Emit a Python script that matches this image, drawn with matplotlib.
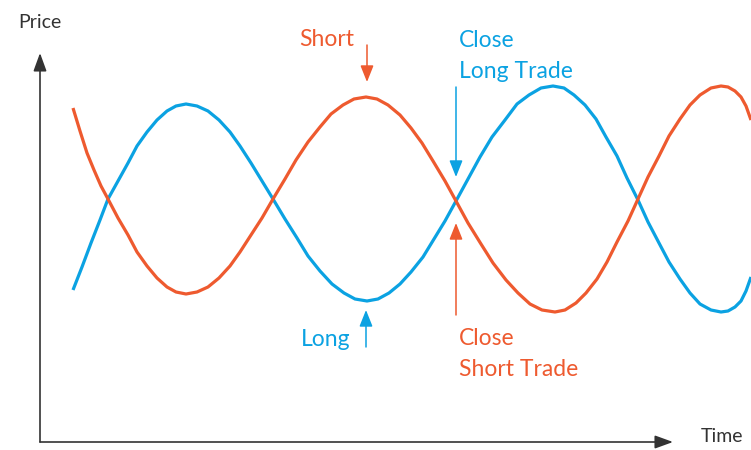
import matplotlib.pyplot as plt

# values (time, price in screen-like units, top = 0)
blue_t = [73, 82, 91, 100,
          108, 118, 128, 137, 147, 157, 167, 176,
          186, 197, 208, 219, 230, 240, 251, 262,
          273, 285, 297, 308, 320, 332, 344, 355,
          367, 378, 389, 400, 411, 423, 434, 445,
          456, 468, 480, 492, 505, 517, 529, 541,
          553, 564, 574, 585, 596, 606, 617, 627,
          638, 648, 659, 669, 680, 690, 700, 711,
          721, 728, 735, 741, 746, 751]
blue_y = [290, 267, 243, 220,
          199, 181, 163, 146, 132, 120, 111, 106,
          104, 106, 111, 120, 132, 146, 163, 181,
          199, 219, 238, 256, 271, 284, 293, 299,
          301, 299, 293, 284, 272, 257, 239, 221,
          201, 179, 157, 137, 120, 104, 95, 88,
          86, 88, 95, 105, 119, 137, 156, 178,
          200, 222, 243, 262, 279, 293, 304, 310,
          312, 311, 307, 301, 291, 277]

orange_t = [73, 80, 87, 94, 101,
            108, 118, 128, 137, 147, 157, 167, 176,
            186, 197, 208, 219, 230, 240, 251, 262,
            273, 285, 296, 308, 320, 331, 343, 354,
            366, 377, 388, 400, 411, 422, 433, 445,
            456, 468, 481, 493, 506, 518, 530, 542,
            555, 565, 576, 586, 597, 607, 617, 628,
            638, 648, 659, 669, 680, 690, 700, 711,
            721, 728, 735, 741, 746, 751]
orange_y = [108, 131, 153, 170, 186,
            199, 218, 235, 252, 266, 278, 287, 292,
            294, 292, 287, 278, 266, 252, 235, 218,
            199, 179, 160, 142, 127, 114, 105, 99,
            97, 99, 105, 115, 128, 143, 161, 181,
            201, 223, 244, 263, 280, 293, 304, 310,
            312, 310, 303, 293, 279, 262, 242, 221,
            199, 177, 156, 136, 119, 105, 95, 88,
            86, 87, 91, 97, 106, 120]

BLUE = '#0ba2e2'
ORANGE = '#ee5a2f'
DARK = '#333333'
H = 450


def flip(vals):
    return [H - v for v in vals]


plt.rcParams['font.family'] = ['Lato', 'DejaVu Sans']

fig = plt.figure(figsize=(7.51, 4.5), dpi=100)
ax = fig.add_axes([0, 0, 1, 1])
ax.set_xlim(0, 751)
ax.set_ylim(0, H)
ax.axis('off')

ax.plot(blue_t, flip(blue_y), color=BLUE, lw=2.3, solid_joinstyle='round',
        solid_capstyle='butt')
ax.plot(orange_t, flip(orange_y), color=ORANGE, lw=2.3, solid_joinstyle='round',
        solid_capstyle='butt')


def arrow(x0, y0, x1, y1, color, lw=1.1, scale=20, hl=0.5, hw=0.2):
    ax.annotate('', xy=(x1, H - y1), xytext=(x0, H - y0),
                arrowprops=dict(arrowstyle=f'-|>,head_length={hl},head_width={hw}',
                                color=color, lw=lw, shrinkA=0, shrinkB=0,
                                mutation_scale=scale))


# axes
arrow(40, 442, 40, 53, DARK, lw=1.2, hl=0.55, hw=0.2)
arrow(40, 442, 673, 442, DARK, lw=1.2, hl=0.55, hw=0.2)
ax.text(40, H - 22, 'Price', fontsize=14, color=DARK, ha='center', va='center')
ax.text(722, H - 436, 'Time', fontsize=14, color=DARK, ha='center', va='center')

# signals
arrow(367, 45, 367, 82, ORANGE)
ax.text(327, H - 40, 'Short', fontsize=16.5, color=ORANGE, ha='center', va='center')

arrow(366, 347, 366, 310, BLUE)
ax.text(326, H - 340, 'Long', fontsize=16.5, color=BLUE, ha='center', va='center')

arrow(456, 87, 456, 177, BLUE)
ax.text(459, H - 56, 'Close\nLong Trade', fontsize=16.5, color=BLUE, ha='left',
        va='center', linespacing=1.55)

arrow(456, 315, 456, 223, ORANGE)
ax.text(459, H - 354, 'Close\nShort Trade', fontsize=16.5, color=ORANGE, ha='left',
        va='center', linespacing=1.55)

fig.savefig('out.png', dpi=100)
